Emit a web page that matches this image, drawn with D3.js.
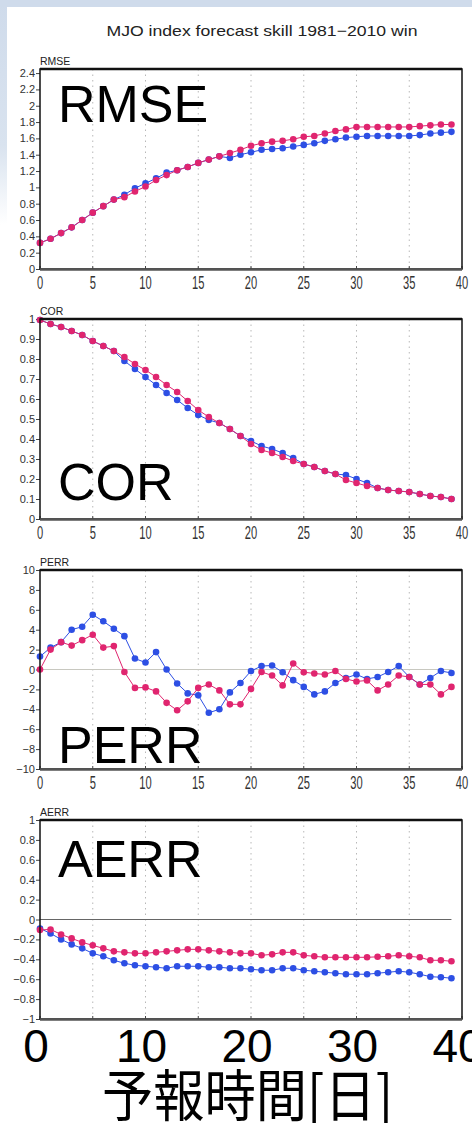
<!DOCTYPE html>
<html>
<head>
<meta charset="utf-8">
<script src="https://cdn.jsdelivr.net/npm/d3@7"></script>
<style>
  html, body { margin: 0; padding: 0; background: #fff; }
  svg { display: block; }
</style>
</head>
<body>
<svg id="chart" width="472" height="1123"></svg>
<script>
"use strict";

var days = d3.range(0, 40),

    rmseBlue = [0.32, 0.37, 0.44, 0.51, 0.60, 0.69, 0.77, 0.85, 0.91, 0.99,
		1.05, 1.11, 1.18, 1.21, 1.25, 1.30, 1.34, 1.38, 1.36, 1.40,
		1.43, 1.46, 1.47, 1.48, 1.50, 1.52, 1.54, 1.57, 1.59, 1.61,
		1.62, 1.63, 1.63, 1.63, 1.63, 1.63, 1.64, 1.66, 1.67, 1.68],
    rmsePink = [0.32, 0.37, 0.44, 0.51, 0.60, 0.69, 0.77, 0.85, 0.88, 0.95,
		1.01, 1.09, 1.15, 1.21, 1.25, 1.30, 1.34, 1.38, 1.42, 1.46,
		1.51, 1.54, 1.56, 1.57, 1.59, 1.62, 1.63, 1.66, 1.69, 1.71,
		1.74, 1.74, 1.74, 1.74, 1.74, 1.74, 1.75, 1.76, 1.77, 1.77],

    corBlue = [0.995, 0.975, 0.96, 0.94, 0.92, 0.89, 0.865, 0.84, 0.79, 0.75,
	       0.71, 0.67, 0.63, 0.595, 0.555, 0.52, 0.495, 0.48, 0.45, 0.415,
	       0.39, 0.365, 0.35, 0.33, 0.305, 0.275, 0.26, 0.24, 0.225, 0.22,
	       0.20, 0.18, 0.155, 0.145, 0.14, 0.135, 0.125, 0.115, 0.11, 0.10],
    corPink = [0.995, 0.975, 0.96, 0.94, 0.92, 0.89, 0.865, 0.84, 0.81, 0.775,
	       0.745, 0.71, 0.67, 0.635, 0.59, 0.545, 0.51, 0.48, 0.45, 0.415,
	       0.375, 0.345, 0.33, 0.31, 0.29, 0.275, 0.26, 0.24, 0.225, 0.195,
	       0.18, 0.165, 0.155, 0.145, 0.14, 0.135, 0.125, 0.115, 0.11, 0.10],

    perrBlue = [1.3, 2.2, 2.75, 4.0, 4.3, 5.5, 4.85, 4.1, 3.35, 1.1,
		0.7, 1.75, 0.0, -1.4, -2.4, -2.6, -4.35, -4.0, -2.3, -1.35,
		-0.15, 0.35, 0.4, -0.27, -1.07, -1.75, -2.5, -2.2, -1.35, -0.85,
		-0.5, -0.95, -0.75, -0.25, 0.35, -0.75, -1.5, -0.85, -0.15, -0.35],
    perrPink = [0.0, 2.0, 2.75, 2.4, 2.95, 3.5, 2.2, 2.35, -0.25, -1.85,
		-1.8, -2.2, -3.35, -4.1, -3.2, -1.85, -1.5, -2.1, -3.5, -3.5,
		-1.95, -0.25, -0.6, -1.6, 0.6, -0.27, -0.4, -0.5, -0.15, -0.95,
		-1.2, -1.1, -2.1, -1.5, -0.6, -0.75, -1.5, -1.5, -2.5, -1.75],

    aerrBlue = [-0.09, -0.14, -0.20, -0.25, -0.29, -0.34, -0.37, -0.41, -0.44, -0.46,
		-0.47, -0.48, -0.49, -0.47, -0.47, -0.47, -0.48, -0.48, -0.49, -0.49,
		-0.50, -0.51, -0.51, -0.49, -0.49, -0.51, -0.52, -0.53, -0.54, -0.55,
		-0.55, -0.55, -0.54, -0.53, -0.52, -0.53, -0.55, -0.575, -0.58, -0.59],
    aerrPink = [-0.105, -0.10, -0.15, -0.19, -0.23, -0.26, -0.29, -0.32, -0.33, -0.34,
		-0.34, -0.33, -0.32, -0.31, -0.30, -0.30, -0.31, -0.32, -0.33, -0.34,
		-0.34, -0.36, -0.35, -0.33, -0.33, -0.36, -0.37, -0.38, -0.38, -0.38,
		-0.38, -0.38, -0.375, -0.37, -0.36, -0.37, -0.38, -0.41, -0.41, -0.42],

    xTicks = [0, 5, 10, 15, 20, 25, 30, 35, 40],
    bigXTicks = [0, 10, 20, 30, 40],
    rmseTicks = d3.range(0, 2.41, 0.2),
    corTicks = d3.range(0, 1.01, 0.1),
    perrTicks = d3.range(-10, 10.1, 2),
    aerrTicks = d3.range(-1, 1.01, 0.2),

    titleText = "MJO index forecast skill  1981\u22122010 win",
    xTitle = "予報時間[日]",

    blue = "#2d4fe4",
    pink = "#e0256f",
    narrow = "'Liberation Sans Narrow', 'Liberation Sans', sans-serif",
    plotLeft = 40,
    plotRight = 462;

var panels = [
    {name: "RMSE", blue: rmseBlue, pink: rmsePink, domain: [0, 2.45], ticks: rmseTicks,
     top: 69, bottom: 269, bigY: 122, zero: false, smallX: true},
    {name: "COR", blue: corBlue, pink: corPink, domain: [0, 1], ticks: corTicks,
     top: 319, bottom: 519, bigY: 500, zero: false, smallX: true},
    {name: "PERR", blue: perrBlue, pink: perrPink, domain: [-10, 10], ticks: perrTicks,
     top: 570, bottom: 769, bigY: 763, zero: true, smallX: true},
    {name: "AERR", blue: aerrBlue, pink: aerrPink, domain: [-1, 1], ticks: aerrTicks,
     top: 820, bottom: 1019, bigY: 877, zero: true, smallX: false}
];

var svg = d3.select("#chart"),
    x = d3.scaleLinear().domain([0, 40]).range([plotLeft, plotRight]),
    fmt = d3.format("~g");

// light blue slide border at top and left
var grad = svg.append("defs").append("linearGradient")
	.attr("id", "edge")
	.attr("x1", 0).attr("y1", 0).attr("x2", 0).attr("y2", 1);
grad.append("stop").attr("offset", 0).attr("stop-color", "#cfdbeb");
grad.append("stop").attr("offset", 0.13).attr("stop-color", "#d9e3ef");
grad.append("stop").attr("offset", 0.2).attr("stop-color", "#fff");

svg.append("rect")
    .attr("width", 472).attr("height", 1123)
    .attr("fill", "#fff");
svg.append("rect")
    .attr("width", 7).attr("height", 1123)
    .attr("fill", "url(#edge)");
svg.append("rect")
    .attr("width", 472).attr("height", 7)
    .attr("fill", "#cfdbeb");

svg.append("text")
    .attr("x", 262).attr("y", 36)
    .attr("text-anchor", "middle")
    .attr("font-family", narrow)
    .attr("font-size", 15)
    .attr("fill", "#222")
    .attr("textLength", 311)
    .attr("lengthAdjust", "spacingAndGlyphs")
    .text(titleText);

panels.forEach(function(p) {
    var y = d3.scaleLinear().domain(p.domain).range([p.bottom, p.top]),
	g = svg.append("g");

    // dotted verticals
    g.selectAll("line.grid")
	.data(xTicks.slice(1, -1))
	.enter().append("line")
	.attr("x1", function(d) { return x(d); })
	.attr("x2", function(d) { return x(d); })
	.attr("y1", p.top).attr("y2", p.bottom)
	.attr("stroke", "#b8b8b8")
	.attr("stroke-width", 1)
	.attr("stroke-dasharray", "1.5,4");

    if (p.zero) {
	g.append("line")
	    .attr("x1", x(0)).attr("x2", x(39))
	    .attr("y1", y(0)).attr("y2", y(0))
	    .attr("stroke", p.name === "PERR" ? "#c8c8c0" : "#666")
	    .attr("stroke-width", 1);
    }

    // y axis
    var yAxis = g.append("g")
	    .attr("transform", "translate(" + plotLeft + ",0)")
	    .call(d3.axisLeft(y).tickValues(p.ticks).tickFormat(fmt).tickSize(4).tickPadding(1));
    yAxis.select(".domain").remove();
    yAxis.selectAll("line").attr("stroke", "#444");
    yAxis.selectAll("text")
	.attr("font-family", narrow)
	.attr("font-size", 11)
	.attr("fill", "#333");

    // bottom small labels
    if (p.smallX) {
	g.selectAll("text.xl")
	    .data(xTicks)
	    .enter().append("text")
	    .attr("transform", function(d) {
		return "translate(" + x(d) + "," + (p.bottom + 20) + ") scale(0.62,1)";
	    })
	    .attr("text-anchor", "middle")
	    .attr("font-family", narrow)
	    .attr("font-size", 18)
	    .attr("fill", "#333")
	    .text(function(d) { return d; });
    }
    g.selectAll("line.xt")
	.data(xTicks)
	.enter().append("line")
	.attr("x1", function(d) { return x(d); })
	.attr("x2", function(d) { return x(d); })
	.attr("y1", p.bottom).attr("y2", p.bottom - 3)
	.attr("stroke", "#444");

    // series
    [[p.blue, blue], [p.pink, pink]].forEach(function(s) {
	var line = d3.line()
		.x(function(d, i) { return x(days[i]); })
		.y(function(d) { return y(d); });

	g.append("path")
	    .datum(s[0])
	    .attr("d", line)
	    .attr("fill", "none")
	    .attr("stroke", s[1])
	    .attr("stroke-width", 1);

	g.selectAll(null)
	    .data(s[0])
	    .enter().append("circle")
	    .attr("cx", function(d, i) { return x(days[i]); })
	    .attr("cy", function(d) { return y(d); })
	    .attr("r", 3.3)
	    .attr("fill", s[1]);
    });

    // frame
    g.append("rect")
	.attr("x", plotLeft).attr("y", p.top)
	.attr("width", plotRight - plotLeft)
	.attr("height", p.bottom - p.top)
	.attr("fill", "none")
	.attr("stroke", "#111")
	.attr("stroke-width", 1.5);
    g.append("line")
	.attr("x1", plotLeft).attr("x2", plotRight)
	.attr("y1", p.top).attr("y2", p.top)
	.attr("stroke", "#111").attr("stroke-width", 2.5);
    g.append("line")
	.attr("x1", plotLeft).attr("x2", plotRight)
	.attr("y1", p.bottom + 0.5).attr("y2", p.bottom + 0.5)
	.attr("stroke", "#555").attr("stroke-width", 2.5);

    g.append("text")
	.attr("x", plotLeft).attr("y", p.top - 4)
	.attr("font-family", narrow)
	.attr("font-size", 10.5)
	.attr("fill", "#222")
	.text(p.name);

    g.append("text")
	.attr("x", 58).attr("y", p.bigY)
	.attr("font-family", "'Liberation Sans', Arial, sans-serif")
	.attr("font-size", 52)
	.attr("fill", "#000")
	.text(p.name);
});

svg.selectAll("text.big")
    .data(bigXTicks)
    .enter().append("text")
    .attr("x", function(d) { return x(d) - 4; })
    .attr("y", 1062)
    .attr("text-anchor", "middle")
    .attr("font-family", "'Liberation Sans', Arial, sans-serif")
    .attr("font-size", 46)
    .attr("fill", "#000")
    .text(function(d) { return d; });

svg.append("text")
    .attr("x", 102).attr("y", 1116)
    .attr("font-family", "'Noto Sans CJK JP', sans-serif")
    .attr("font-size", 56)
    .attr("fill", "#000")
    .attr("textLength", 291)
    .attr("lengthAdjust", "spacingAndGlyphs")
    .text(xTitle);
</script>
</body>
</html>
